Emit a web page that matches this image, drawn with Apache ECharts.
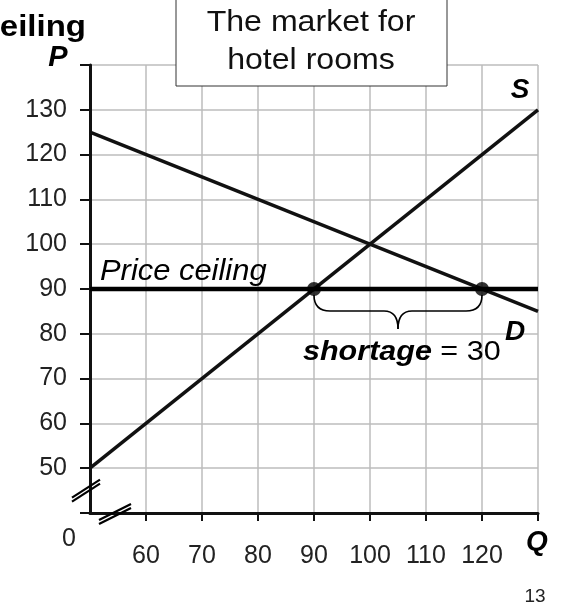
<!DOCTYPE html>
<html>
<head>
<meta charset="utf-8">
<script src="https://cdn.jsdelivr.net/npm/echarts@6/dist/echarts.min.js"></script>
<style>
  html, body { margin: 0; padding: 0; background: #fff; }
  #main { width: 562px; height: 609px; }
</style>
</head>
<body>
<div id="main"></div>
<script>
// market for hotel rooms: supply, demand, price ceiling at 90
const supplyQ = [50, 130];
const supplyP = [50, 130];
const demandQ = [50, 130];
const demandP = [125, 85];
const ceilingQ = [50, 130];
const ceilingP = [90, 90];
const shortQ = [90, 120]; // quantity supplied / demanded at the ceiling
const xTicks = [60, 70, 80, 90, 100, 110, 120, 130];
const xLabels = [60, 70, 80, 90, 100, 110, 120];
const yLabels = [50, 60, 70, 80, 90, 100, 110, 120, 130];

const font = "'Liberation Sans', Arial, sans-serif";

function pairs(xs, ys) {
  return xs.map(function (x, i) { return [x, ys[i]]; });
}

const chart = echarts.init(document.getElementById("main"));

chart.setOption({
  animation: false,
  grid: { left: 90, right: 24, top: 65, bottom: 96 },
  xAxis: {
    type: "value",
    min: 50,
    max: 130,
    interval: 10,
    axisLine: { lineStyle: { color: "#111", width: 3 } },
    axisTick: {
      show: true,
      customValues: xTicks,
      length: 8,
      lineStyle: { color: "#111", width: 2 },
    },
    axisLabel: {
      customValues: xLabels,
      margin: 31,
      fontFamily: font,
      fontSize: 25,
      color: "#222",
    },
    splitLine: { show: true, lineStyle: { color: "#bdbdbd", width: 1.5 } },
  },
  yAxis: {
    type: "value",
    min: 40,
    max: 140,
    interval: 10,
    axisLine: { lineStyle: { color: "#111", width: 3 } },
    axisTick: { length: 10, lineStyle: { color: "#111", width: 2 } },
    axisLabel: {
      customValues: yLabels,
      margin: 23,
      fontFamily: font,
      fontSize: 25,
      color: "#222",
    },
    splitLine: { show: true, lineStyle: { color: "#bdbdbd", width: 1.5 } },
  },
  series: [
    {
      name: "S",
      type: "line",
      data: pairs(supplyQ, supplyP),
      symbol: "none",
      lineStyle: { color: "#111", width: 3.5 },
    },
    {
      name: "D",
      type: "line",
      data: pairs(demandQ, demandP),
      symbol: "none",
      lineStyle: { color: "#111", width: 3.5 },
    },
    {
      name: "Price ceiling",
      type: "line",
      data: pairs(ceilingQ, ceilingP),
      symbol: "none",
      lineStyle: { color: "#000", width: 4.5 },
    },
    {
      type: "scatter",
      data: pairs(shortQ, ceilingP),
      symbolSize: 14,
      itemStyle: { color: "#000" },
      z: 5,
    },
  ],
});

// annotations placed from the axes
const a = chart.convertToPixel({ gridIndex: 0 }, [shortQ[0], ceilingP[0]]);
const b = chart.convertToPixel({ gridIndex: 0 }, [shortQ[1], ceilingP[1]]);
const x1 = a[0], x2 = b[0], xm = (x1 + x2) / 2;
const y0 = a[1] + 6, y1 = a[1] + 22, y2 = a[1] + 40;

const braceStyle = { stroke: "#000", lineWidth: 1.6, fill: null };
function curve(sx, sy, cx, cy, ex, ey) {
  return {
    type: "bezierCurve",
    shape: { x1: sx, y1: sy, cpx1: cx, cpy1: cy, x2: ex, y2: ey },
    style: braceStyle,
    z: 20,
  };
}
function seg(sx, sy, ex, ey, w, color) {
  return {
    type: "line",
    shape: { x1: sx, y1: sy, x2: ex, y2: ey },
    style: { stroke: color || "#000", lineWidth: w || 1.6 },
    z: 20,
  };
}
const brace = [
  curve(x1, y0, x1, y1, x1 + 16, y1),
  seg(x1 + 16, y1, xm - 14, y1),
  curve(xm - 14, y1, xm, y1, xm, y2),
  curve(xm, y2, xm, y1, xm + 14, y1),
  seg(xm + 14, y1, x2 - 16, y1),
  curve(x2 - 16, y1, x2, y1, x2, y0),
];

const o = chart.convertToPixel({ gridIndex: 0 }, [50, 40]);
const yb = chart.convertToPixel({ gridIndex: 0 }, [50, 45]);
const xb = chart.convertToPixel({ gridIndex: 0 }, [55, 40]);

function slash(cx, cy, dx, dy) {
  return [-2, 2].map(function (d) {
    return seg(cx - dx, cy + dy + d, cx + dx, cy - dy + d, 2.2);
  });
}

function txt(x, y, text, size, extra, sx) {
  return {
    type: "text",
    x: x,
    y: y,
    scaleX: sx || 1,
    z: 30,
    style: Object.assign(
      {
        text: text,
        fontFamily: font,
        fontSize: size,
        fill: "#000",
        align: "center",
        verticalAlign: "middle",
      },
      extra || {}
    ),
  };
}

const bi = { fontWeight: "bold", fontStyle: "italic" };

chart.setOption({
  graphic: [
    ...brace,
    ...slash(o[0] - 4, yb[1], 14, 9),
    ...slash(xb[0] - 3, o[1] + 1, 16, 8),
    {
      type: "rect",
      shape: { x: 176, y: -2, width: 271, height: 88 },
      style: { fill: "#fff", stroke: "#333", lineWidth: 1 },
      z: 25,
    },
    txt(311, 23, "The market for", 30, { fill: "#111" }, 1.07),
    txt(311, 61, "hotel rooms", 30, { fill: "#111" }, 1.07),
    txt(86, 28, "ceiling", 30, { fontWeight: "bold", align: "right" }, 1.1),
    txt(58, 58, "P", 29, bi),
    txt(520, 90, "S", 28, bi),
    txt(515, 332, "D", 28, bi),
    txt(537, 542, "Q", 28, bi),
    txt(69, 539, "0", 25, { fill: "#222" }),
    txt(535, 597, "13", 19, { fill: "#222" }),
    txt(100, 272, "Price ceiling", 30, { fontStyle: "italic", align: "left" }, 1.03),
    {
      type: "text",
      x: 303,
      y: 352,
      scaleX: 1.09,
      z: 30,
      style: {
        text: "{b|shortage} = 30",
        fontFamily: font,
        fontSize: 28,
        fill: "#000",
        verticalAlign: "middle",
        rich: {
          b: { fontFamily: font, fontSize: 28, fontWeight: "bold", fontStyle: "italic" },
        },
      },
    },
  ],
});
</script>
</body>
</html>
